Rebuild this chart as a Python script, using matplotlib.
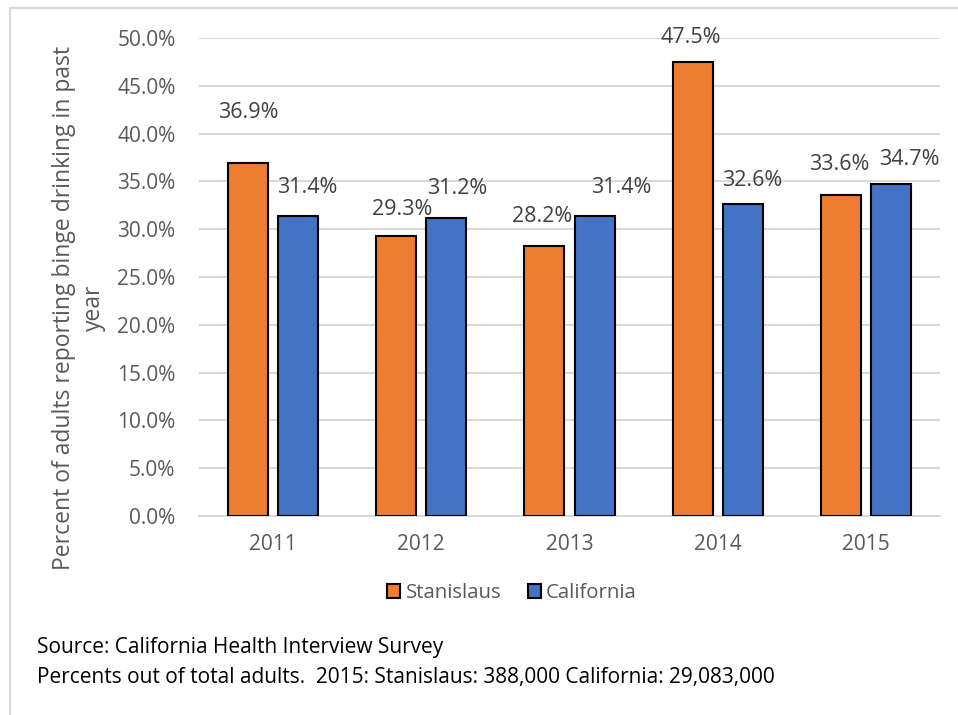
import matplotlib

matplotlib.use("Agg")
import matplotlib.pyplot as plt
import numpy as np
from matplotlib.lines import Line2D
from matplotlib.patches import Patch

plt.rcParams["font.family"] = ["Open Sans", "DejaVu Sans"]

years = ["2011", "2012", "2013", "2014", "2015"]
stanislaus = [36.9, 29.3, 28.2, 47.5, 33.6]
california = [31.4, 31.2, 31.4, 32.6, 34.7]
series_names = ["Stanislaus", "California"]
footnotes = [
    "Source: California Health Interview Survey",
    "Percents out of total adults.  2015: Stanislaus: 388,000 California: 29,083,000",
]

ORANGE = "#ED7D31"
BLUE = "#4472C4"
GRID = "#D9D9D9"
TICK = "#595959"
LABEL = "#404040"

# label nudges (pixels) copied from the manually placed labels in the original
orange_off = [(0, 51), (6, 26), (-2, 30), (-2, 24), (-2, 30)]
blue_off = [(9, 28), (11, 29), (27, 28), (9, 24), (18, 25)]

W, H = 958, 715
fig = plt.figure(figsize=(W / 100, H / 100), dpi=100)
ax = fig.add_axes([199 / W, 1 - 516 / H, (940 - 199) / W, (516 - 38) / H])

x = np.arange(len(years))
bw = 0.27
shift = 0.169
b1 = ax.bar(x - shift, stanislaus, bw, color=ORANGE, edgecolor="black", linewidth=1.5, zorder=3)
b2 = ax.bar(x + shift, california, bw, color=BLUE, edgecolor="black", linewidth=1.5, zorder=3)

for bars, vals, offs in ((b1, stanislaus, orange_off), (b2, california, blue_off)):
    for rect, v, (dx, dy) in zip(bars, vals, offs):
        ax.annotate(f"{v:.1f}%", (rect.get_x() + rect.get_width() / 2, v),
                    xytext=(dx * 0.72, dy * 0.72), textcoords="offset points",
                    ha="center", va="center", fontsize=15.5, color=LABEL)

ax.set_xlim(-0.5, len(years) - 0.5)
ax.set_ylim(0, 50)
ax.set_yticks(np.arange(0, 50.1, 5))
ax.set_yticklabels([f"{t:.1f}%" for t in np.arange(0, 50.1, 5)])
ax.set_xticks(x)
ax.set_xticklabels(years)
ax.tick_params(axis="both", length=0, labelsize=15, labelcolor=TICK)
ax.tick_params(axis="y", pad=17)
ax.tick_params(axis="x", pad=13)
ax.grid(axis="y", color=GRID, linewidth=1.5, zorder=0)
for s in ("top", "right", "left"):
    ax.spines[s].set_visible(False)
ax.spines["bottom"].set_color(GRID)
ax.spines["bottom"].set_linewidth(1.5)

fig.text(79 / W, 1 - 308 / H, "Percent of adults reporting binge drinking in past\nyear",
         rotation=90, ha="center", va="center", multialignment="center",
         fontsize=16.5, color=TICK, linespacing=1.3)

handles = [Patch(facecolor=ORANGE, edgecolor="black", linewidth=1.5),
           Patch(facecolor=BLUE, edgecolor="black", linewidth=1.5)]
fig.legend(handles, series_names, loc="center", bbox_to_anchor=(512 / W, 1 - 593 / H),
           ncol=2, frameon=False, fontsize=14.7, labelcolor=TICK,
           handlelength=0.65, handleheight=0.65, handletextpad=0.25, columnspacing=1.3)

fig.text(37 / W, 1 - 648 / H, footnotes[0], ha="left", va="center", fontsize=15, color="black")
fig.text(37 / W, 1 - 677 / H, footnotes[1], ha="left", va="center", fontsize=15, color="black")

# light frame of the original chart area
fig.add_artist(Line2D([10 / W, 10 / W], [0, 1 - 8 / H], color=GRID, linewidth=1.5))
fig.add_artist(Line2D([10 / W, 1], [1 - 8 / H, 1 - 8 / H], color=GRID, linewidth=1.5))

fig.savefig("out.png", dpi=100)
